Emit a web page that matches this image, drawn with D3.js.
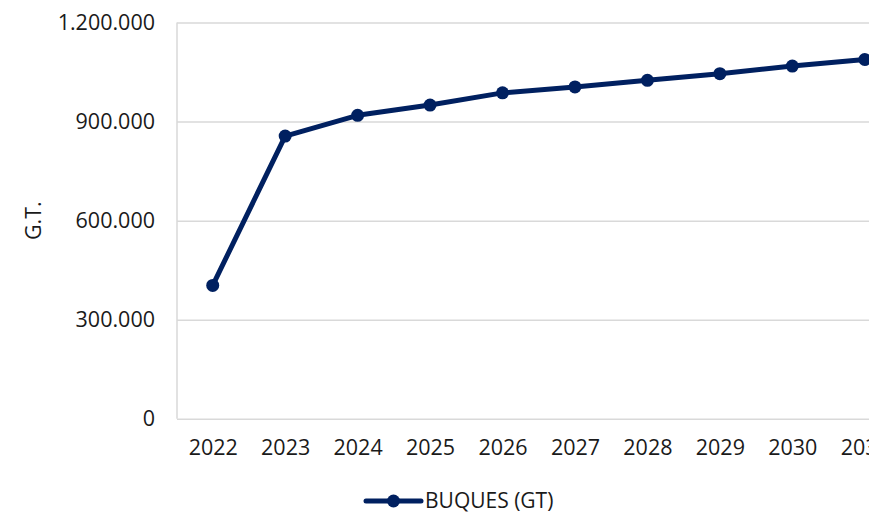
<!DOCTYPE html>
<html>
<head>
<meta charset="utf-8">
<script src="https://cdn.jsdelivr.net/npm/d3@7"></script>
<style>
  html, body { margin: 0; padding: 0; background: #fff; }
  svg { display: block; font-family: "Open Sans", sans-serif; }
</style>
</head>
<body>
<svg id="chart" width="869" height="515"></svg>
<script>
// Data
const years = ['2022', '2023', '2024', '2025', '2026', '2027', '2028', '2029', '2030', '2031'];
const buques = [404000, 856000, 919000, 950000, 987000, 1005000, 1025000, 1045000, 1068000, 1088000];
const yTicks = [0, 300000, 600000, 900000, 1200000];
const seriesName = 'BUQUES (GT)';
const yTitle = 'G.T.';

const width = 869;
const height = 515;
const margin = { top: 22.5, left: 177, bottom: 96 };
const lineColor = '#002060';
const gridColor = '#d9d9d9';
const textColor = '#1a1a1a';

const svg = d3.select('#chart');

const locale = d3.formatLocale({ decimal: ',', thousands: '.', grouping: [3], currency: ['', '€'] });
const fmt = locale.format(',d');

const x = d3.scalePoint()
  .domain(years)
  .range([margin.left - 0.5, margin.left + 724])
  .padding(0.5);

const y = d3.scaleLinear()
  .domain([0, 1200000])
  .range([height - margin.bottom - 0.2, margin.top]);

// Gridlines + y labels
const yAxis = svg.append('g')
  .attr('transform', `translate(${margin.left},0)`)
  .call(d3.axisLeft(y).tickValues(yTicks).tickSize(-(width - margin.left)).tickPadding(22).tickFormat(fmt));

yAxis.select('.domain').remove();
yAxis.selectAll('.tick line')
  .attr('stroke', gridColor)
  .attr('stroke-width', 1.5);
yAxis.selectAll('.tick text')
  .attr('fill', textColor)
  .attr('font-size', 21.5)
  .attr('font-family', '"Open Sans", sans-serif');

// Left axis line
svg.append('line')
  .attr('x1', margin.left).attr('x2', margin.left)
  .attr('y1', y(1200000)).attr('y2', y(0))
  .attr('stroke', gridColor)
  .attr('stroke-width', 1.5);

// X labels (the last one is cut at the right edge, as in the reference)
const xAxis = svg.append('g')
  .attr('transform', `translate(0,${y(0)})`)
  .call(d3.axisBottom(x).tickSize(0).tickPadding(21));

xAxis.select('.domain').remove();
xAxis.selectAll('.tick text')
  .attr('fill', textColor)
  .attr('font-size', 21.5)
  .attr('font-family', '"Open Sans", sans-serif');

// Y title
svg.append('text')
  .attr('transform', `translate(41,${(y(0) + y(1200000)) / 2}) rotate(-90)`)
  .attr('text-anchor', 'middle')
  .attr('font-size', 21.5)
  .attr('fill', textColor)
  .text(yTitle);

// Series line
const line = d3.line()
  .x((d, i) => x(years[i]))
  .y(d => y(d));

svg.append('path')
  .datum(buques)
  .attr('fill', 'none')
  .attr('stroke', lineColor)
  .attr('stroke-width', 5)
  .attr('stroke-linejoin', 'round')
  .attr('d', line);

svg.append('g')
  .selectAll('circle')
  .data(buques)
  .join('circle')
  .attr('cx', (d, i) => x(years[i]))
  .attr('cy', d => y(d))
  .attr('r', 6.5)
  .attr('fill', lineColor);

// Legend
const legend = svg.append('g').attr('transform', 'translate(366,501)');
legend.append('line')
  .attr('x1', 0).attr('x2', 55)
  .attr('stroke', lineColor)
  .attr('stroke-width', 5)
  .attr('stroke-linecap', 'round');
legend.append('circle')
  .attr('cx', 27.5).attr('r', 6.5)
  .attr('fill', lineColor);
legend.append('text')
  .attr('x', 59)
  .attr('dy', '0.35em')
  .attr('font-size', 21)
  .attr('fill', textColor)
  .text(seriesName);
</script>
</body>
</html>
